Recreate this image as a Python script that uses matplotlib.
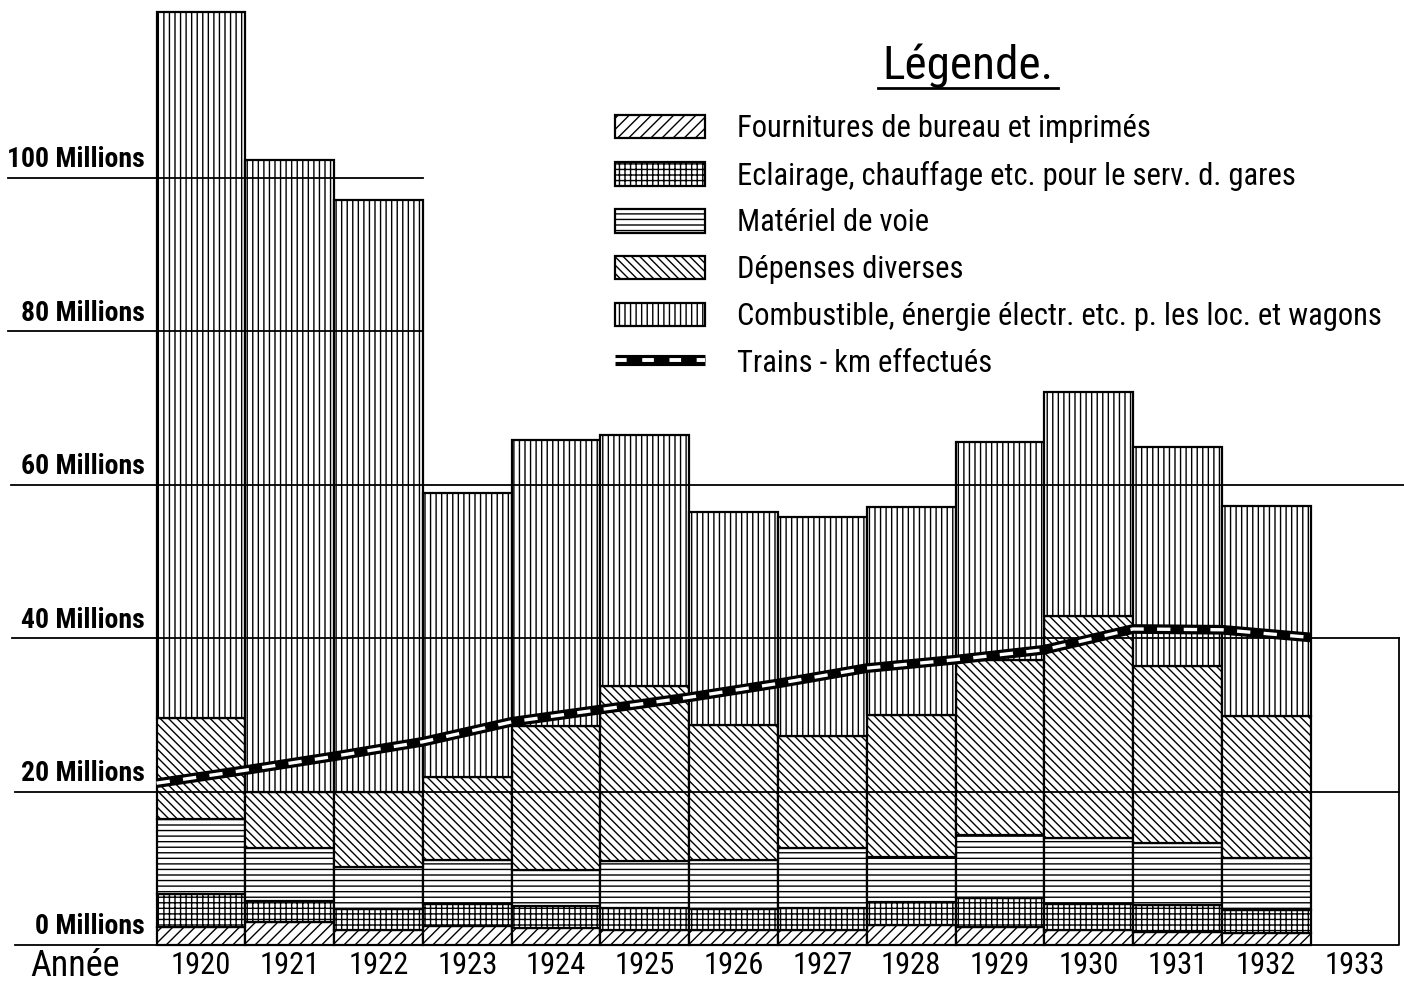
import numpy as np
import matplotlib.pyplot as plt
from matplotlib.lines import Line2D

plt.rcParams['font.family'] = ['Roboto Condensed', 'Roboto', 'DejaVu Sans']
plt.rcParams['hatch.linewidth'] = 1.0

years = [1920, 1921, 1922, 1923, 1924, 1925, 1926, 1927, 1928, 1929, 1930, 1931, 1932]
# millions, one value per year, bottom to top
fournitures = [2.3, 3.0, 2.0, 2.5, 2.2, 1.9, 1.9, 1.9, 2.6, 2.4, 2.0, 1.7, 1.6]
eclairage = [4.3, 2.8, 2.7, 2.8, 2.9, 2.9, 2.8, 2.9, 3.0, 3.7, 3.3, 3.5, 3.0]
materiel = [9.8, 6.8, 5.5, 5.8, 4.7, 6.1, 6.4, 7.8, 5.9, 8.3, 8.6, 8.1, 6.7]
depenses = [13.2, 7.3, 9.7, 10.8, 18.7, 22.9, 17.6, 14.6, 18.5, 22.8, 29.0, 23.1, 18.6]
combustible = [92.0, 82.4, 77.2, 37.0, 37.3, 32.7, 27.8, 28.6, 27.1, 28.4, 29.2, 28.5, 27.3]
# trains-km, read at the year boundaries (start of 1920 .. end of 1932)
trains_km = [21.1, 22.8, 24.6, 26.5, 29.1, 30.7, 32.3, 34.1, 36.1, 37.2, 38.5, 41.2, 41.1, 40.1]

labels = ["Fournitures de bureau et imprimés",
          "Eclairage, chauffage etc. pour le serv. d. gares",
          "Matériel de voie",
          "Dépenses diverses",
          "Combustible, énergie électr. etc. p. les loc. et wagons"]
hatches = ['///', '+++', '---', '\\\\\\\\', '|||']
series = [fournitures, eclairage, materiel, depenses, combustible]

fig = plt.figure(figsize=(14.04, 9.82), dpi=100)
ax = fig.add_axes([0, 0, 1, 1])
ax.set_xlim(1917.736, 1933.552)
ax.set_ylim(-4.82, 123.2)
ax.axis('off')

x = np.array(years)
bottom = np.zeros(len(years))
handles = []
for vals, h, lab in zip(series, hatches, labels):
    b = ax.bar(x, vals, width=1.0, bottom=bottom, color='white', edgecolor='black',
               hatch=h, linewidth=1.6, label=lab, zorder=2)
    handles.append(b)
    bottom += np.array(vals)

# horizontal reference lines with the left "Millions" labels
grid_levels = [0, 20, 40, 60, 80, 100]
grid_ends = [1932.5, 1933.5, 1933.5, 1933.55, 1922.5, 1922.5]
grid_starts = [1917.9, 1917.9, 1917.87, 1917.86, 1917.83, 1917.83]
for lvl, xs, xe in zip(grid_levels, grid_starts, grid_ends):
    ax.plot([xs, xe], [lvl, lvl], color='black', lw=1.3, zorder=3)
    ax.text(1919.37, lvl + 0.6, f"{lvl} Millions", ha='right', va='bottom',
            fontsize=20, fontweight='bold')
# empty 1933 column frame
ax.plot([1932.5, 1933.5, 1933.5], [0, 0, 40], color='black', lw=1.3, zorder=3)

# year labels
for yr in years + [1933]:
    ax.text(yr, -2.7, str(yr), ha='center', va='center', fontsize=22)
ax.text(1918.58, -2.7, "Année", ha='center', va='center', fontsize=26)

# trains-km line
xb = np.arange(len(trains_km)) + years[0] - 0.5
ax.plot(xb, trains_km, color='black', lw=7, solid_capstyle='butt', zorder=5)
ax.plot(xb, trains_km, color='white', lw=2.4, dashes=(4, 4), zorder=6)

train_handle = (Line2D([], [], color='black', lw=8, solid_capstyle='butt'),
                Line2D([], [], color='white', lw=2.8, dashes=(3, 4)))

leg = ax.legend(handles + [train_handle], labels + ["Trains - km effectués"],
                loc='upper left', bbox_to_anchor=(615 / 1404, 1 - 114 / 982),
                frameon=False, fontsize=22, handlelength=2.95, handleheight=0.8,
                handletextpad=1.05, labelspacing=0.58, borderpad=0, borderaxespad=0)

ax.text(968, 982 - 66, "Légende.", transform=None, ha='center', va='center', fontsize=34)
ax.plot([878, 1058], [982 - 88, 982 - 88], transform=None, color='black', lw=2)

fig.savefig('out.png', dpi=100)
